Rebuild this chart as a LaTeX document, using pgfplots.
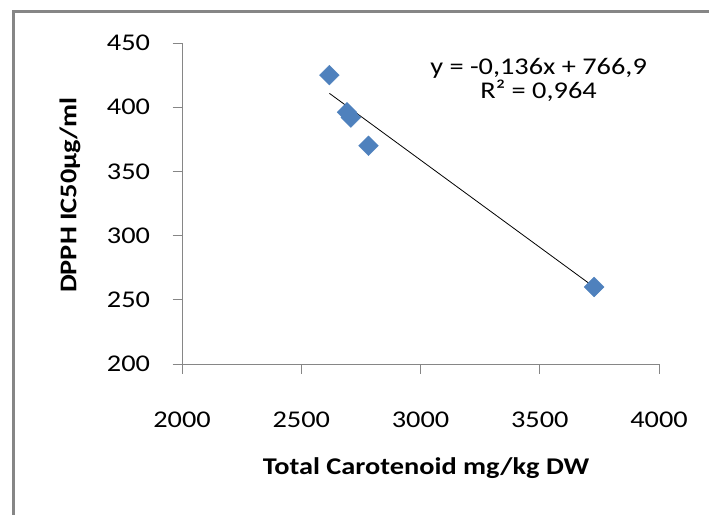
\documentclass[border=0pt]{standalone}
\usepackage{pgfplots}
\pgfplotsset{compat=1.18}
\usepackage{fontspec}
\setmainfont{Carlito}[FakeStretch=1.18]
\definecolor{xlblue}{RGB}{79,129,189}
\definecolor{axgray}{RGB}{134,134,134}
\begin{document}
\begin{tikzpicture}[x=1pt,y=1pt]
\path[use as bounding box] (0,0) rectangle (709,-514);
% outer chart frame
\draw[axgray, line width=3pt] (13.5,-520) -- (13.5,-11.5) -- (715,-11.5);
\begin{axis}[
    at={(182pt,-364pt)}, anchor=south west,
    scale only axis,
    width=477pt, height=321pt,
    xmin=2000, xmax=4000,
    ymin=200, ymax=450,
    xtick={2000,2500,...,4000},
    ytick={200,250,...,450},
    axis x line=bottom,
    axis y line=left,
    axis line style={axgray, line width=0.8pt, -},
    tick style={axgray, line width=0.8pt},
    tick align=outside,
    major tick length=9.5pt,
    /pgf/number format/1000 sep={},
    /pgf/number format/assume math mode=true,
    ticklabel style={font=\fontsize{24}{28}\selectfont},
    xticklabel style={anchor=center, yshift=-46pt},
    yticklabel style={anchor=east, xshift=-19pt},
    xlabel={\textbf{Total Carotenoid mg/kg DW}},
    ylabel={\textbf{DPPH IC50µg/ml}},
    label style={font=\fontsize{24}{28}\selectfont},
    xlabel style={at={(axis description cs:0.5115,-0.324)}, anchor=center},
    ylabel style={at={(axis description cs:-0.2348,0.5265)}, anchor=center, rotate=0},
    clip=false,
]
\addplot[only marks, mark=square*, mark size=7pt,
    mark options={rotate=45, fill=xlblue, draw=xlblue}]
    coordinates {(2618,425) (2692,396) (2708,392) (2782,370) (3728,260)};
\addplot[black, line width=0.8pt] coordinates {(2618,410.8) (3728,259.9)};
% trendline equation
\node[font=\fontsize{24}{28}\selectfont, anchor=base, inner sep=1pt] at (axis cs:3495,425.1) {y = -0,136x + 766,9};
\node[font=\fontsize{24}{28}\selectfont, anchor=base, inner sep=1pt] at (axis cs:3495,406.8) {R² = 0,964};
\end{axis}
\end{tikzpicture}
\end{document}
